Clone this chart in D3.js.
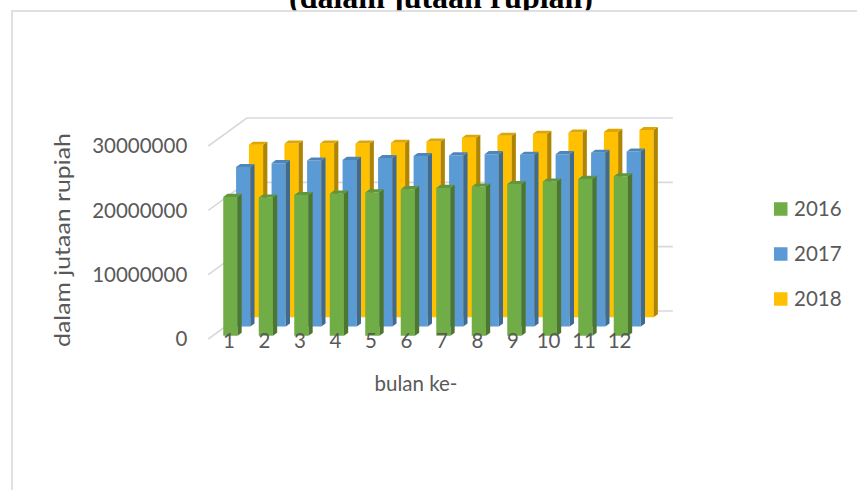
<!DOCTYPE html>
<html><head><meta charset="utf-8">
<script src="https://cdn.jsdelivr.net/npm/d3@7"></script>
<style>html,body{margin:0;padding:0;background:#fff;overflow:hidden;} svg{display:block;}</style>
</head><body>
<svg id="c" width="857" height="490"></svg>
<script>
const categories = ["1","2","3","4","5","6","7","8","9","10","11","12"];
const seriesNames = ["2016","2017","2018"];
const values2016 = [21600000, 21500000, 21900000, 22100000, 22300000, 22800000, 23000000, 23200000, 23600000, 24000000, 24400000, 24800000];
const values2017 = [24800000, 25400000, 25800000, 25900000, 26200000, 26500000, 26600000, 26800000, 26700000, 26800000, 27000000, 27200000];
const values2018 = [26800000, 27000000, 27000000, 27000000, 27100000, 27300000, 27900000, 28200000, 28500000, 28700000, 28800000, 29100000];
const yTicks = [0, 10000000, 20000000, 30000000];
const seriesColors = ["#70ad47", "#5b9bd5", "#ffc000"];
const titleText = "(dalam jutaan rupiah)";
const yTitle = "dalam jutaan rupiah";
const xTitle = "bulan ke-";

const seriesValues = [values2016, values2017, values2018];
const svg = d3.select("#c");
const sans = "Lato, 'Open Sans', sans-serif";
const txt = "#595959";

// title (partly hidden by chart box, as in the source)
svg.append("text").attr("x", 441).attr("y", 7.5).attr("text-anchor", "middle")
  .style("font-family", "'Liberation Serif','Times New Roman',serif")
  .style("font-weight", "bold").style("font-size", "32px").attr("fill", "#000")
  .text(titleText);

// chart box
svg.append("rect").attr("x", 12).attr("y", 11).attr("width", 900).attr("height", 600)
  .attr("fill", "#fff").attr("stroke", "#d9d9d9").attr("stroke-width", 1.6);

const frontY0 = 339;
const depthVec = [38.5, -28];
const x = d3.scaleBand().domain(categories).range([208.3, 634.3]).paddingInner(0.6).paddingOuter(0.3);
const y = d3.scaleLinear().domain([0, 30000000]).range([0, 193]);
const z = d3.scaleBand().domain(seriesNames).range([0, 1]).paddingInner(0.67).paddingOuter(0.335);
function proj(px, v, d) { return [px + d * depthVec[0], frontY0 - y(v) + d * depthVec[1]]; }
const [xr0, xr1] = x.range();

// gridlines: left wall + back wall
const grid = svg.append("g").attr("fill", "none").attr("stroke", "#d9d9d9").attr("stroke-width", 1.6);
yTicks.forEach(t => {
  const a = proj(xr0, t, 0), b = proj(xr0, t, 1), c = proj(xr1, t, 1);
  grid.append("path").attr("d", d3.line()([a, b, c]));
});

// y tick labels
svg.append("g").selectAll("text").data(yTicks).join("text")
  .attr("x", d => proj(xr0, d, 0)[0] - 21)
  .attr("y", d => proj(xr0, d, 0)[1])
  .attr("dy", "0.35em").attr("text-anchor", "end")
  .style("font-family", sans).style("font-size", "20.5px").attr("fill", txt)
  .text(d => d3.format("d")(d));

// bars (back to front)
const bars = svg.append("g");
for (let s = seriesNames.length - 1; s >= 0; s--) {
  const name = seriesNames[s];
  const col = d3.color(seriesColors[s]);
  const d0 = z(name), d1 = d0 + z.bandwidth();
  const w = x.bandwidth();
  categories.forEach((cat, i) => {
    const v = seriesValues[s][i];
    const px = x(cat);
    const g = bars.append("g");
    const poly = pts => "M" + pts.map(p => p.join(",")).join("L") + "Z";
    g.append("path").attr("d", poly([proj(px, 0, d0), proj(px + w, 0, d0), proj(px + w, v, d0), proj(px, v, d0)]))
      .attr("fill", col.formatHex());
    g.append("path").attr("d", poly([proj(px + w, 0, d0), proj(px + w, 0, d1), proj(px + w, v, d1), proj(px + w, v, d0)]))
      .attr("fill", col.darker(1.05).formatHex());
    g.append("path").attr("d", poly([proj(px, v, d0), proj(px + w, v, d0), proj(px + w, v, d1), proj(px, v, d1)]))
      .attr("fill", col.darker(0.4).formatHex());
  });
}

// x tick labels
svg.append("g").selectAll("text").data(categories).join("text")
  .attr("x", d => x(d) + x.bandwidth() / 2 + 3).attr("y", 348)
  .attr("text-anchor", "middle")
  .style("font-family", sans).style("font-size", "20.5px").attr("fill", txt)
  .text(d => d);

// axis titles
svg.append("text").attr("x", 416).attr("y", 391).attr("text-anchor", "middle")
  .style("font-family", sans).style("font-size", "20.5px").attr("fill", txt).text(xTitle);
svg.append("text").attr("transform", "translate(70,240) rotate(-90)").attr("text-anchor", "middle")
  .style("font-family", sans).style("font-size", "22px").attr("fill", txt)
  .attr("textLength", 214).attr("lengthAdjust", "spacingAndGlyphs").text(yTitle);

// legend
const leg = svg.append("g").selectAll("g").data(seriesNames).join("g")
  .attr("transform", (d, i) => `translate(774,${209 + i * 45})`);
leg.append("rect").attr("x", 0).attr("y", -6.75).attr("width", 13.5).attr("height", 13.5)
  .attr("fill", (d, i) => seriesColors[i]);
leg.append("text").attr("x", 20).attr("dy", "0.35em")
  .style("font-family", sans).style("font-size", "20.5px").attr("fill", txt).text(d => d);
</script>
</body></html>
